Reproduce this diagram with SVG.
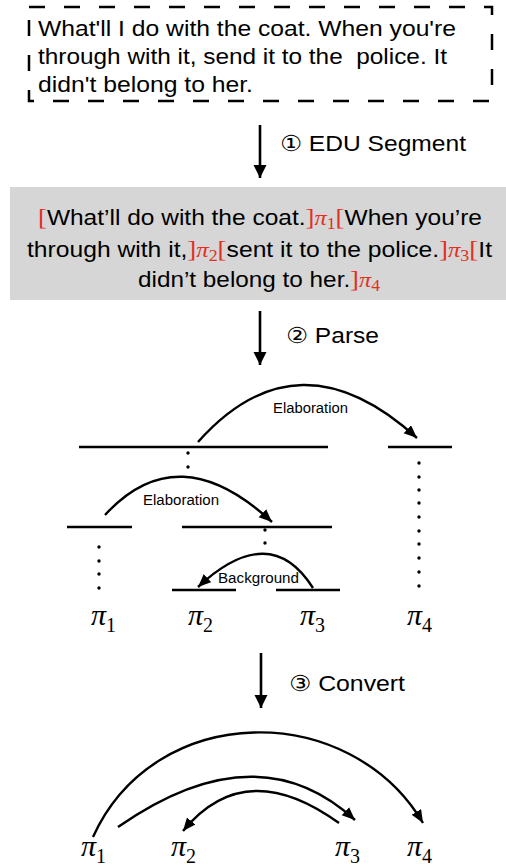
<svg xmlns="http://www.w3.org/2000/svg" width="506" height="868" viewBox="0 0 506 868">
<style>
.t{font-family:"Liberation Sans","DejaVu Sans",sans-serif;fill:#000}
.big{font-size:22px}
.lab{font-size:14px}
.r{fill:#e2301f;font-family:"Liberation Serif","DejaVu Serif",serif}
.pi{font-family:"Liberation Serif","DejaVu Serif",serif;font-style:italic}
.sub{font-family:"Liberation Serif","DejaVu Serif",serif;font-style:normal}
.ln{stroke:#000;stroke-width:2.6;fill:none}
.arc{stroke:#000;stroke-width:2.4;fill:none}
.dot{fill:#000}
</style>
<defs>
<marker id="ah" markerUnits="userSpaceOnUse" markerWidth="14" markerHeight="12" refX="13" refY="5.5" orient="auto">
<path d="M0,0 L13,5.5 L0,11 z" fill="#000"/>
</marker>
<marker id="dh" markerUnits="userSpaceOnUse" markerWidth="14" markerHeight="14" refX="13" refY="6.5" orient="auto">
<path d="M0,0 L13,6.5 L0,13 z" fill="#000"/>
</marker>
</defs>

<g id="input-text">
<rect x="29" y="7" width="463" height="94" fill="none" stroke="#000" stroke-width="2.5" stroke-dasharray="16 19"/>
<text class="t big" x="38" y="36" textLength="418" lengthAdjust="spacingAndGlyphs">What'll I do with the coat. When you're</text>
<text class="t big" x="38" y="64" textLength="409" lengthAdjust="spacingAndGlyphs" xml:space="preserve">through with it, send it to the  police. It</text>
<text class="t big" x="38" y="92" textLength="215" lengthAdjust="spacingAndGlyphs">didn't belong to her.</text>
</g>

<g id="step1">
<line x1="260" y1="125" x2="260" y2="178" class="ln" stroke-width="2" marker-end="url(#dh)"/>
<text class="t big" x="280" y="151" textLength="186" lengthAdjust="spacingAndGlyphs">① EDU Segment</text>
</g>

<g id="edu-box">
<rect x="10" y="187" width="496" height="113" fill="#d6d6d6"/>
<text class="t big" x="38" y="225" textLength="444" lengthAdjust="spacingAndGlyphs"><tspan class="r" font-size="24">[</tspan>What’ll do with the coat.<tspan class="r" font-size="24">]</tspan><tspan class="r pi" font-size="22">π</tspan><tspan class="r sub" font-size="16" dy="4">1</tspan><tspan class="r" font-size="24" dy="-4">[</tspan>When you’re</text>
<text class="t big" x="27" y="257" textLength="465" lengthAdjust="spacingAndGlyphs">through with it,<tspan class="r" font-size="24">]</tspan><tspan class="r pi" font-size="22">π</tspan><tspan class="r sub" font-size="16" dy="4">2</tspan><tspan class="r" font-size="24" dy="-4">[</tspan>sent it to the police.<tspan class="r" font-size="24">]</tspan><tspan class="r pi" font-size="22">π</tspan><tspan class="r sub" font-size="16" dy="4">3</tspan><tspan class="r" font-size="24" dy="-4">[</tspan>It</text>
<text class="t big" x="138" y="287" textLength="242" lengthAdjust="spacingAndGlyphs">didn’t belong to her.<tspan class="r" font-size="24">]</tspan><tspan class="r pi" font-size="22">π</tspan><tspan class="r sub" font-size="16" dy="4">4</tspan></text>
</g>

<g id="step2">
<line x1="260" y1="311" x2="260" y2="365" class="ln" stroke-width="2" marker-end="url(#dh)"/>
<text class="t big" x="286" y="343" textLength="93" lengthAdjust="spacingAndGlyphs">② Parse</text>
</g>

<g id="tree">
<line x1="79" y1="447" x2="328" y2="447" class="ln"/>
<line x1="388" y1="447" x2="452" y2="447" class="ln"/>
<line x1="67" y1="527" x2="132" y2="527" class="ln"/>
<line x1="182" y1="527" x2="332" y2="527" class="ln"/>
<line x1="172" y1="590" x2="236" y2="590" class="ln"/>
<line x1="276" y1="590" x2="340" y2="590" class="ln"/>
<circle class="dot" cx="188" cy="453" r="1.7"/>
<circle class="dot" cx="188" cy="467" r="1.7"/>
<circle class="dot" cx="265" cy="530" r="1.7"/>
<circle class="dot" cx="265" cy="543" r="1.7"/>
<circle class="dot" cx="99" cy="547" r="1.7"/>
<circle class="dot" cx="99" cy="561" r="1.7"/>
<circle class="dot" cx="99" cy="574" r="1.7"/>
<circle class="dot" cx="99" cy="588" r="1.7"/>
<circle class="dot" cx="419" cy="463" r="1.7"/>
<circle class="dot" cx="419" cy="477" r="1.7"/>
<circle class="dot" cx="419" cy="490" r="1.7"/>
<circle class="dot" cx="419" cy="503" r="1.7"/>
<circle class="dot" cx="419" cy="517" r="1.7"/>
<circle class="dot" cx="419" cy="531" r="1.7"/>
<circle class="dot" cx="419" cy="544" r="1.7"/>
<circle class="dot" cx="419" cy="558" r="1.7"/>
<circle class="dot" cx="419" cy="572" r="1.7"/>
<circle class="dot" cx="419" cy="586" r="1.7"/>
<text class="pi" font-size="30" x="91" y="625">π<tspan class="sub" font-size="20" dy="7">1</tspan></text>
<text class="pi" font-size="30" x="188" y="625">π<tspan class="sub" font-size="20" dy="7">2</tspan></text>
<text class="pi" font-size="30" x="300" y="625">π<tspan class="sub" font-size="20" dy="7">3</tspan></text>
<text class="pi" font-size="30" x="407" y="625">π<tspan class="sub" font-size="20" dy="7">4</tspan></text>
</g>

<g id="tree-relations">
<path class="arc" d="M198,442 Q298,330 417,438" marker-end="url(#ah)"/>
<text class="t lab" x="273" y="413" textLength="75" lengthAdjust="spacingAndGlyphs">Elaboration</text>
<path class="arc" d="M105,515 Q178,435 272,522" marker-end="url(#ah)"/>
<text class="t lab" x="143" y="505" textLength="76" lengthAdjust="spacingAndGlyphs">Elaboration</text>
<path class="arc" d="M313,588 Q270,520 198,587" marker-end="url(#ah)"/>
<text class="t lab" x="218" y="583" textLength="81" lengthAdjust="spacingAndGlyphs">Background</text>
</g>

<g id="step3">
<line x1="261" y1="653" x2="261" y2="708" class="ln" stroke-width="2" marker-end="url(#dh)"/>
<text class="t big" x="289" y="691" textLength="116" lengthAdjust="spacingAndGlyphs">③ Convert</text>
</g>

<g id="graph-nodes">
<text class="pi" font-size="30" x="81" y="856">π<tspan class="sub" font-size="20" dy="7">1</tspan></text>
<text class="pi" font-size="30" x="171" y="856">π<tspan class="sub" font-size="20" dy="7">2</tspan></text>
<text class="pi" font-size="30" x="335" y="856">π<tspan class="sub" font-size="20" dy="7">3</tspan></text>
<text class="pi" font-size="30" x="407" y="856">π<tspan class="sub" font-size="20" dy="7">4</tspan></text>
</g>

<g id="graph-edges">
<path class="arc" d="M93,837 C155,700 350,700 423,823" marker-end="url(#ah)"/>
<path class="arc" d="M118,827 Q257,730 355,820" marker-end="url(#ah)"/>
<path class="arc" d="M339,823 Q245,755 183,831" marker-end="url(#ah)"/>
</g>
</svg>
